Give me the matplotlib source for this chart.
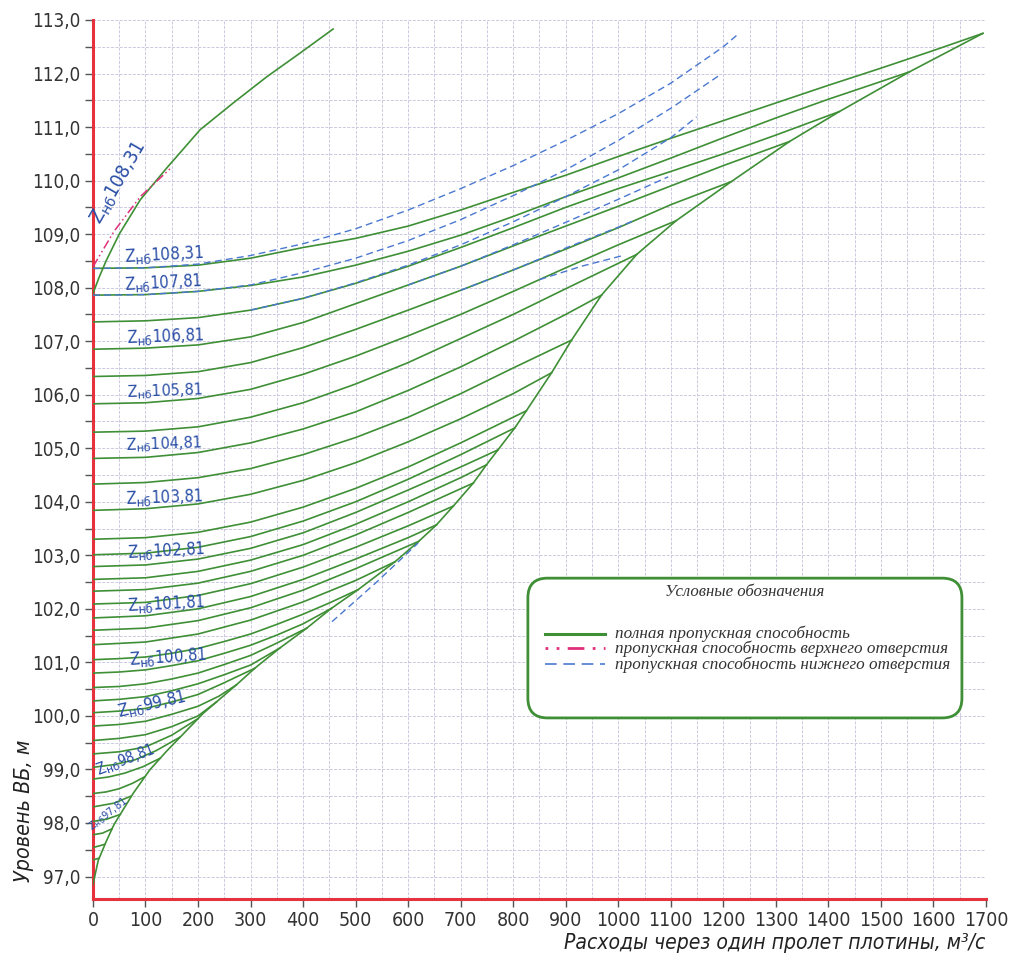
import os
import numpy as np
import matplotlib
matplotlib.use("Agg")
import matplotlib.pyplot as plt
from matplotlib import font_manager
from matplotlib.patches import FancyBboxPatch
from matplotlib.ticker import MultipleLocator, FuncFormatter

# ---- fonts: prefer a condensed sans, as in the original drawing
font_files = {os.path.basename(f.fname): f.fname for f in font_manager.fontManager.ttflist}


def pick_font(candidates, fallback):
    for c in candidates:
        if c in font_files:
            return font_manager.FontProperties(fname=font_files[c])
    return font_manager.FontProperties(**fallback)


SANS = pick_font(['NotoSans-Condensed.ttf', 'LiberationSansNarrow-Regular.ttf',
                  'NotoSans-SemiCondensed.ttf', 'DejaVuSansCondensed.ttf',
                  'LiberationSans-Regular.ttf'], dict(family='DejaVu Sans'))
SANS_IT = pick_font(['NotoSans-CondensedItalic.ttf', 'LiberationSansNarrow-Italic.ttf',
                     'NotoSans-SemiCondensedItalic.ttf', 'DejaVuSansCondensed-Oblique.ttf',
                     'LiberationSans-Italic.ttf'], dict(family='DejaVu Sans', style='italic'))
SERIF_IT = font_manager.FontProperties(family=['Liberation Serif', 'DejaVu Serif'], style='italic')

GREEN = '#3f8f36'
BLUE = '#4a78d0'
MAGENTA = '#e0307a'
RED = '#e5323d'
LBLUE = '#2a4ea6'

# tailwater levels (Z_нб) of each green curve
tw_levels = [108.31, 107.81, 107.31, 106.81, 106.31, 105.81, 105.31, 104.81, 104.31,
             103.81, 103.31, 103.06, 102.81, 102.56, 102.31, 102.06, 101.81, 101.56,
             101.31, 101.06, 100.81, 100.56, 100.31, 100.06, 99.81, 99.56, 99.31,
             99.06, 98.81, 98.56, 98.31, 98.06, 97.81, 97.56, 97.31]

# discharge points of each curve, m3/s
curve_q = [
    [0, 100, 200, 300, 400, 500, 600, 700, 800, 900, 1000, 1100, 1200, 1300, 1400, 1500, 1600, 1694],
    [0, 100, 200, 300, 400, 500, 600, 700, 800, 900, 1000, 1100, 1200, 1300, 1400, 1500, 1554],
    [0, 100, 200, 300, 400, 500, 600, 700, 800, 900, 1000, 1100, 1200, 1300, 1421],
    [0, 100, 200, 300, 400, 500, 600, 700, 800, 900, 1000, 1100, 1200, 1326],
    [0, 100, 200, 300, 400, 500, 600, 700, 800, 900, 1000, 1100, 1215],
    [0, 100, 200, 300, 400, 500, 600, 700, 800, 900, 1000, 1110],
    [0, 100, 200, 300, 400, 500, 600, 700, 800, 900, 1035],
    [0, 100, 200, 300, 400, 500, 600, 700, 800, 900, 968],
    [0, 100, 200, 300, 400, 500, 600, 700, 800, 911],
    [0, 100, 200, 300, 400, 500, 600, 700, 800, 873],
    [0, 100, 200, 300, 400, 500, 600, 700, 825],
    [0, 100, 200, 300, 400, 500, 600, 700, 803],
    [0, 100, 200, 300, 400, 500, 600, 700, 771],
    [0, 100, 200, 300, 400, 500, 600, 700, 749],
    [0, 100, 200, 300, 400, 500, 600, 724],
    [0, 100, 200, 300, 400, 500, 600, 686],
    [0, 100, 200, 300, 400, 500, 600, 654],
    [0, 100, 200, 300, 400, 500, 620],
    [0, 100, 200, 300, 400, 500, 575],
    [0, 50, 100, 150, 200, 250, 300, 350, 400, 450, 505],
    [0, 50, 100, 150, 200, 250, 300, 350, 400, 454],
    [0, 50, 100, 150, 200, 250, 300, 350, 407],
    [0, 50, 100, 150, 200, 250, 300, 356],
    [0, 50, 100, 150, 200, 250, 308],
    [0, 50, 100, 150, 200, 240, 273],
    [0, 50, 100, 150, 200, 235],
    [0, 50, 100, 150, 200],
    [0, 40, 80, 120, 165],
    [0, 30, 60, 95, 128],
    [0, 25, 50, 75, 98],
    [0, 40, 72],
    [0, 26, 52],
    [0, 18, 36],
    [0, 22],
    [0, 11],
]

# upstream level of each curve, m
curve_h = [
    [108.36, 108.37, 108.42, 108.55, 108.75, 108.92, 109.15, 109.45, 109.78, 110.1, 110.45, 110.79, 111.12, 111.45, 111.78, 112.1, 112.43, 112.75],
    [107.86, 107.87, 107.93, 108.04, 108.2, 108.42, 108.68, 108.98, 109.33, 109.7, 110.05, 110.42, 110.8, 111.17, 111.52, 111.85, 112.03],
    [107.36, 107.38, 107.44, 107.58, 107.8, 108.08, 108.4, 108.75, 109.12, 109.5, 109.85, 110.17, 110.5, 110.85, 111.29],
    [106.85, 106.87, 106.93, 107.08, 107.35, 107.7, 108.05, 108.4, 108.78, 109.15, 109.52, 109.9, 110.28, 110.73],
    [106.34, 106.36, 106.43, 106.6, 106.88, 107.22, 107.58, 107.95, 108.33, 108.72, 109.12, 109.55, 109.98],
    [105.83, 105.85, 105.93, 106.1, 106.38, 106.72, 107.1, 107.5, 107.93, 108.37, 108.8, 109.25],
    [105.3, 105.32, 105.4, 105.58, 105.85, 106.2, 106.6, 107.05, 107.5, 107.98, 108.62],
    [104.81, 104.83, 104.92, 105.1, 105.36, 105.68, 106.08, 106.52, 107.0, 107.5, 107.86],
    [104.33, 104.36, 104.45, 104.62, 104.88, 105.2, 105.58, 106.02, 106.5, 107.02],
    [103.84, 103.87, 103.96, 104.14, 104.4, 104.73, 105.12, 105.55, 106.02, 106.41],
    [103.3, 103.33, 103.43, 103.62, 103.9, 104.25, 104.65, 105.1, 105.7],
    [103.01, 103.04, 103.15, 103.35, 103.64, 104.0, 104.42, 104.88, 105.38],
    [102.79, 102.82, 102.93, 103.13, 103.42, 103.8, 104.22, 104.65, 104.97],
    [102.55, 102.58, 102.7, 102.91, 103.2, 103.58, 104.0, 104.45, 104.69],
    [102.33, 102.36, 102.48, 102.7, 103.0, 103.38, 103.8, 104.35],
    [102.09, 102.12, 102.25, 102.47, 102.78, 103.15, 103.55, 103.92],
    [101.83, 101.87, 102.0, 102.23, 102.55, 102.93, 103.33, 103.57],
    [101.6, 101.64, 101.78, 102.02, 102.35, 102.75, 103.26],
    [101.33, 101.38, 101.53, 101.79, 102.13, 102.53, 102.88],
    [101.05, 101.07, 101.1, 101.17, 101.26, 101.39, 101.53, 101.71, 101.9, 102.11, 102.36],
    [100.8, 100.82, 100.86, 100.94, 101.03, 101.17, 101.32, 101.51, 101.72, 102.01],
    [100.53, 100.55, 100.6, 100.69, 100.8, 100.96, 101.13, 101.36, 101.64],
    [100.28, 100.31, 100.36, 100.47, 100.6, 100.77, 100.95, 101.27],
    [100.06, 100.09, 100.14, 100.26, 100.4, 100.62, 100.89],
    [99.81, 99.84, 99.9, 100.03, 100.18, 100.37, 100.58],
    [99.54, 99.58, 99.65, 99.8, 100.0, 100.26],
    [99.29, 99.33, 99.42, 99.64, 99.95],
    [99.04, 99.09, 99.18, 99.35, 99.6],
    [98.82, 98.86, 98.93, 99.05, 99.21],
    [98.55, 98.58, 98.64, 98.74, 98.86],
    [98.3, 98.37, 98.5],
    [98.03, 98.07, 98.16],
    [97.78, 97.81, 97.89],
    [97.54, 97.6],
    [97.31, 97.34],
]

# envelope of full capacity (free discharge)
env_q = [0, 10, 25, 40, 77, 108, 140, 210, 273, 308, 356, 407, 454, 505, 575, 620, 654, 686,
         724, 749, 771, 803, 825, 873, 911, 968, 1035, 1110, 1215, 1326, 1421, 1554, 1694]
env_h = [96.85, 97.3, 97.65, 97.97, 98.56, 98.99, 99.34, 100.05, 100.58, 100.89, 101.27, 101.64,
         102.01, 102.36, 102.88, 103.26, 103.57, 103.92, 104.35, 104.69, 104.97, 105.38, 105.7,
         106.41, 107.02, 107.86, 108.62, 109.25, 109.98, 110.73, 111.29, 112.03, 112.75]

# steep curve at Z_нб 108.31 (upper opening branch)
steep_q = [0, 12, 25, 50, 90, 140, 204, 267, 331, 394, 457]
steep_h = [107.89, 108.2, 108.5, 109.0, 109.64, 110.23, 110.95, 111.45, 111.94, 112.38, 112.83]

# upper opening capacity (dash-dot)
upper_q = [0, 40, 90, 150]
upper_h = [108.39, 109.05, 109.7, 110.25]

# lower opening capacity (dashed)
lower_q = [
    [0, 100, 200, 300, 400, 500, 600, 700, 800, 900, 1000, 1100, 1200, 1231],
    [0, 100, 200, 300, 400, 500, 600, 700, 800, 900, 1000, 1100, 1193],
    [300, 400, 500, 600, 700, 800, 900, 1000, 1100, 1149],
    [600, 700, 800, 900, 1000, 1095],
    [700, 800, 900, 1000, 1034],
    [850, 930, 1009],
    [455, 540, 619],
]
lower_h = [
    [108.36, 108.37, 108.44, 108.6, 108.82, 109.1, 109.45, 109.85, 110.28, 110.75, 111.25, 111.82, 112.5, 112.76],
    [107.86, 107.87, 107.93, 108.05, 108.28, 108.55, 108.88, 109.27, 109.72, 110.2, 110.75, 111.35, 111.97],
    [107.58, 107.8, 108.09, 108.42, 108.8, 109.23, 109.7, 110.2, 110.8, 111.19],
    [108.05, 108.4, 108.8, 109.22, 109.65, 110.07],
    [107.95, 108.33, 108.74, 109.13, 109.27],
    [108.15, 108.4, 108.6],
    [101.76, 102.5, 103.23],
]

# curve labels
lab_text = ['108,31', '108,31', '107,81', '106,81', '105,81', '104,81', '103,81',
            '102,81', '101,81', '100,81', '99,81', '98,81', '97,81']
lab_q = [22, 61, 61, 64, 64, 62, 62, 66, 66, 70, 52, 14, 2]
lab_h = [109.12, 108.38, 107.87, 106.87, 105.87, 104.87, 103.87, 102.85, 101.87, 100.86, 99.88, 98.8, 97.8]
lab_rot = [60, 3, 3, 2, 2, 2, 2, 3, 3, 4, 13, 21, 38]
lab_len = [92, 80, 78, 78, 76, 76, 78, 78, 78, 78, 70, 62, 46]   # length in pixels

legend_items = ['полная пропускная способность',
                'пропускная способность верхнего отверстия',
                'пропускная способность нижнего отверстия']

fig = plt.figure(figsize=(10.16, 9.65), dpi=100)
ax = fig.add_axes([0.0915, 0.0684, 0.879, 0.9109])
ax.set_xlim(0, 1700)
ax.set_ylim(96.58, 113.0)
renderer = fig.canvas.get_renderer()


def fit(t, length, along='width'):
    # scale the font so the text spans the same number of pixels as in the drawing
    bb = t.get_window_extent(renderer)
    cur = bb.width if along == 'width' else bb.height
    t.set_fontsize(t.get_fontsize() * length / cur)


# grid
ax.xaxis.set_major_locator(MultipleLocator(100))
ax.xaxis.set_minor_locator(MultipleLocator(50))
ax.yaxis.set_major_locator(MultipleLocator(1))
ax.yaxis.set_minor_locator(MultipleLocator(0.5))
ax.grid(True, which='both', color='#cbc9df', lw=0.7, ls=(0, (3, 1.5)))
ax.set_axisbelow(True)

for s in ['top', 'right']:
    ax.spines[s].set_visible(False)
for s in ['left', 'bottom']:
    ax.spines[s].set_color(RED)
    ax.spines[s].set_linewidth(2.2)

ax.tick_params(which='major', length=6, width=1, color='#555555', labelcolor='#333333', pad=3)
ax.tick_params(axis='y', which='minor', length=6, width=1, color='#555555')
ax.tick_params(axis='x', which='minor', length=0)
ax.yaxis.set_major_formatter(FuncFormatter(lambda v, p: f'{v:.1f}'.replace('.', ',')))
for lb in ax.get_xticklabels():
    lb.set_fontproperties(SANS)
    lb.set_fontsize(14)
for lb in ax.get_yticklabels():
    lb.set_fontproperties(SANS)
    lb.set_fontsize(13.5)

# curves
for q, h in zip(curve_q, curve_h):
    ax.plot(q, h, color=GREEN, lw=1.2, zorder=3)
ax.plot(env_q, env_h, color=GREEN, lw=1.2, zorder=3)
ax.plot(steep_q, steep_h, color=GREEN, lw=1.2, zorder=3)
ax.plot(upper_q, upper_h, color=MAGENTA, lw=1.1, ls=(0, (6, 2, 1, 2, 1, 2)), zorder=4)
for q, h in zip(lower_q, lower_h):
    ax.plot(q, h, color=BLUE, lw=1.0, ls=(0, (5, 3)), zorder=4)

for t, q, h, r, ln in zip(lab_text, lab_q, lab_h, lab_rot, lab_len):
    txt = ax.text(q, h, 'Z$_{\\rm нб}$' + t, color=LBLUE, fontproperties=SANS,
                  ha='left', va='bottom', rotation_mode='anchor', zorder=5)
    txt.set_fontsize(14)
    fit(txt, ln)
    txt.set_rotation(r)

# legend box (drawn in axes fraction so the corners stay round)
box = FancyBboxPatch((0.487, 0.206), 0.486, 0.159, transform=ax.transAxes,
                     boxstyle='round,pad=0,rounding_size=0.022', mutation_aspect=893 / 879,
                     fc='white', ec=GREEN, lw=2, zorder=6)
ax.add_patch(box)
title = ax.text(0.730, 0.349, 'Условные обозначения', transform=ax.transAxes,
                fontproperties=SERIF_IT, ha='center', va='center', color='#333333', zorder=7)
title.set_fontsize(12)
fit(title, 160)
leg_y = [0.302, 0.285, 0.267]
leg_styles = [dict(color=GREEN, lw=2.2, ls='-'),
              dict(color=MAGENTA, lw=2.0, ls=(0, (1, 3, 1, 3, 6, 3))),
              dict(color=BLUE, lw=1.2, ls=(0, (7, 4)))]
leg_texts = []
for y, st, txt in zip(leg_y, leg_styles, legend_items):
    ax.plot([0.506, 0.573], [y, y], transform=ax.transAxes, zorder=7, **st)
    t = ax.text(0.584, y, txt, transform=ax.transAxes, fontproperties=SERIF_IT,
                ha='left', va='center', color='#333333', zorder=7)
    t.set_fontsize(12.5)
    leg_texts.append(t)
fit(leg_texts[0], 235)
for t in leg_texts[1:]:
    t.set_fontsize(leg_texts[0].get_fontsize())

ylab = fig.text(0.0236, 0.1596, 'Уровень ВБ, м', fontproperties=SANS_IT,
                ha='center', va='center', color='#222222')
ylab.set_fontsize(20)
fit(ylab, 142)
ylab.set_rotation(90)
xlab = fig.text(0.9695, 0.0228, 'Расходы через один пролет плотины, м³/с',
                fontproperties=SANS_IT, ha='right', va='center', color='#222222')
xlab.set_fontsize(20)
fit(xlab, 420)

fig.savefig('out.png', dpi=100)
